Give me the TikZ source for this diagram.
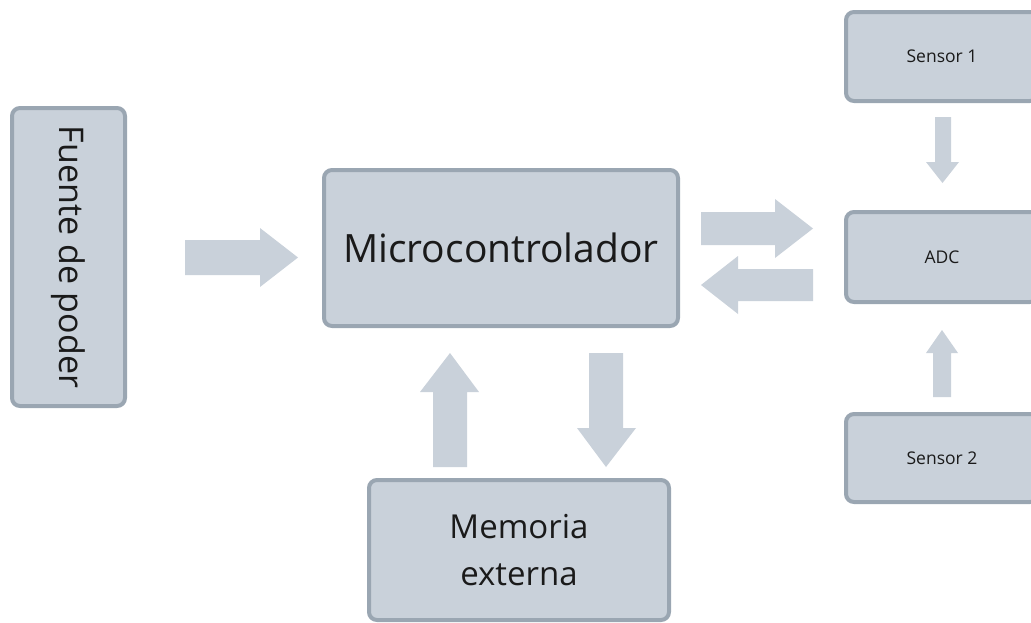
\documentclass[tikz,border=0pt]{standalone}
\usepackage{fontspec}
\setmainfont{Open Sans}
\definecolor{boxfill}{HTML}{C9D1DA}
\definecolor{boxline}{HTML}{9AA6B2}
\definecolor{flowfill}{HTML}{C9D1DA}
\definecolor{ink}{HTML}{1A1A1A}
\begin{document}
\begin{tikzpicture}[x=1pt,y=-1pt,
  block/.style={draw=boxline, fill=boxfill, line width=4pt, rounded corners=8pt,
    align=center, text=ink, inner sep=0pt},
  flow/.style={fill=flowfill, draw=none}]
\useasboundingbox (0,0) rectangle (1031,622);
\clip (0,0) rectangle (1031,622);

% blocks
\node[block, minimum width=113pt, minimum height=298pt] (fuente) at (68.5,257)
  {\rotatebox{-90}{\fontsize{34}{40}\selectfont Fuente de poder}};
\node[block, minimum width=354pt, minimum height=156pt,
  font=\fontsize{39}{46}\selectfont] (mcu) at (501,248) {Microcontrolador};
\node[block, minimum width=300pt, minimum height=140pt,
  font=\fontsize{33}{47}\selectfont] (mem) at (519,550) {Memoria\\externa};
\node[block, minimum width=192pt, minimum height=89pt,
  font=\fontsize{17.5}{20}\selectfont] (s1) at (942,56.5) {Sensor 1};
\node[block, minimum width=192pt, minimum height=90pt,
  font=\fontsize{17.5}{20}\selectfont] (adc) at (942,257) {ADC};
\node[block, minimum width=192pt, minimum height=88pt,
  font=\fontsize{17.5}{20}\selectfont] (s2) at (942,458) {Sensor 2};

% block arrows
% power supply -> microcontroller
\fill[flow] (185,240) -- (260,240) -- (260,228) -- (298,257.5) -- (260,287)
  -- (260,275) -- (185,275) -- cycle;
% microcontroller -> ADC
\fill[flow] (701,212) -- (775,212) -- (775,199) -- (813,228.5) -- (775,258)
  -- (775,245) -- (701,245) -- cycle;
% ADC -> microcontroller
\fill[flow] (813,269) -- (738,269) -- (738,256) -- (701,285) -- (738,314)
  -- (738,301) -- (813,301) -- cycle;
% external memory -> microcontroller
\fill[flow] (433,467) -- (433,392) -- (420,392) -- (450,353) -- (479,392)
  -- (467,392) -- (467,467) -- cycle;
% microcontroller -> external memory
\fill[flow] (589,353) -- (589,428) -- (577,428) -- (606,467) -- (636,428)
  -- (623,428) -- (623,353) -- cycle;
% sensor 1 -> ADC
\fill[flow] (935,117) -- (935,162) -- (926,162) -- (942.5,183) -- (959,162)
  -- (951,162) -- (951,117) -- cycle;
% sensor 2 -> ADC
\fill[flow] (933,397) -- (933,353) -- (926,353) -- (942,330) -- (958,353)
  -- (951,353) -- (951,397) -- cycle;
\end{tikzpicture}
\end{document}
